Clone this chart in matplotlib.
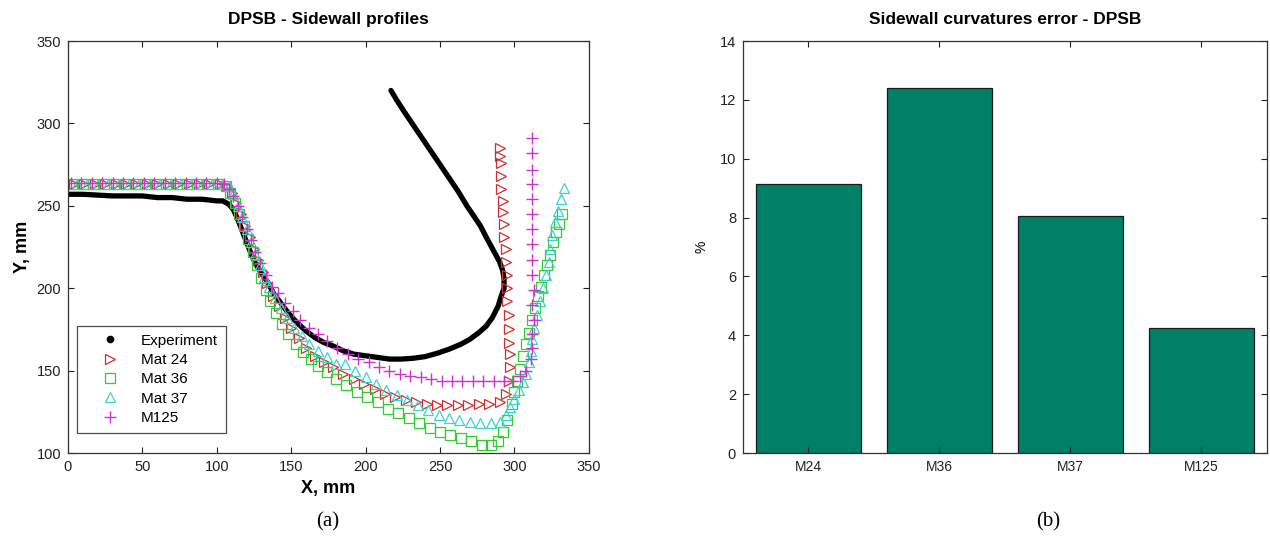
import numpy as np
import matplotlib
matplotlib.use("Agg")
import matplotlib.pyplot as plt
from matplotlib.lines import Line2D

plt.rcParams['font.family'] = ['Liberation Sans', 'DejaVu Sans']

# ---- profile data (X, Y in mm) ----
exp_x = [0, 10, 20, 30, 40, 50, 60, 70, 80, 90, 100, 104, 108, 111, 114, 117, 120, 123, 126, 130,
         134, 138, 143, 148, 154, 160, 166, 172, 178, 185, 192, 200, 208, 216, 224, 232, 240, 248,
         256, 264, 270, 276, 281, 285, 289, 291, 293, 293, 292, 290, 287, 284, 281, 277, 274, 268,
         262, 256, 250, 244, 238, 232, 226, 221, 217]
exp_y = [257, 257, 256.5, 256, 256, 256, 255, 255, 254, 254, 253, 253, 251, 248, 242, 235, 228, 221,
         215, 209, 204, 197, 191, 185, 179, 174, 170, 167, 165, 162, 160, 159, 158, 157, 157, 157.5,
         158.5, 160.5, 163, 166, 169, 173, 177, 182, 189, 195, 200, 206, 211, 216, 221, 226, 231,
         238, 242, 250, 259, 267, 275, 283, 291, 299, 307, 314, 320]

m24_x = [4, 11, 18, 25, 32, 39, 46, 53, 60, 67, 74, 81, 88, 95, 102,
         107, 110, 113, 116, 119, 122, 125, 128, 131, 134, 138, 142, 146, 150, 155, 160, 166, 172,
         178, 185, 192, 199, 206, 213, 220, 227, 234, 241, 248, 255, 262, 269, 276, 283, 290, 294,
         296, 297, 297, 296, 296, 296, 295, 295, 295, 294, 294, 293, 293, 292, 292, 291, 291, 291,
         290, 290]
m24_y = [263, 263, 263, 263, 263, 263, 263, 263, 263, 263, 263, 263, 263, 263, 263,
         262, 258, 252, 245, 238, 231, 224, 217, 210, 203, 195, 189, 182, 176, 170, 164, 159, 155,
         152, 148, 145, 142, 139, 136, 134, 132, 131, 130, 129, 129, 129, 129, 130, 130, 131, 136,
         144, 152, 160, 167, 175, 184, 192, 200, 208, 216, 224, 231, 239, 246, 253, 260, 268, 276,
         280, 285]

m36_x = [3, 10, 17, 24, 31, 38, 45, 52, 59, 66, 73, 80, 87, 94, 101,
         106, 109, 112, 115, 118, 121, 124, 127, 130, 133, 136, 140, 144, 148, 153, 158, 163, 168,
         174, 180, 187, 194, 201, 208, 215, 222, 229, 236, 243, 250, 257, 264, 271, 278, 284, 289,
         292, 295, 298, 300, 302, 304, 306, 308, 310, 312, 314, 316, 318, 320, 322, 324, 326, 328,
         330, 332]
m36_y = [263, 263, 263, 263, 263, 263, 263, 263, 263, 263, 263, 263, 263, 263, 263,
         262, 258, 252, 245, 238, 230, 222, 214, 206, 199, 192, 185, 178, 172, 166, 161, 157, 153,
         149, 145, 141, 137, 134, 131, 127, 124, 121, 118, 115, 113, 111, 109, 107, 105, 105, 107,
         113, 120, 130, 137, 144, 151, 159, 166, 173, 181, 188, 195, 201, 208, 214, 220, 228, 234,
         239, 245]

m37_x = [6, 13, 20, 27, 34, 41, 48, 55, 62, 69, 76, 83, 90, 97, 104,
         108, 111, 114, 117, 120, 123, 126, 129, 132, 135, 139, 143, 147, 152, 157, 162, 168, 174,
         180, 186, 193, 200, 207, 214, 221, 228, 235, 242, 249, 256, 263, 270, 277, 284, 290, 294,
         297, 300, 303, 306, 308, 310, 311, 312, 313, 315, 317, 319, 321, 323, 324, 325, 327, 329,
         331, 333]
m37_y = [263, 263, 263, 263, 263, 263, 263, 263, 263, 263, 263, 263, 263, 263, 263,
         262, 257, 250, 243, 236, 228, 221, 214, 207, 201, 194, 188, 182, 176, 171, 166, 162, 158,
         154, 154, 150, 146, 142, 138, 135, 132, 129, 126, 123, 121, 120, 119, 118, 118, 119, 123,
         128, 133, 138, 143, 148, 155, 162, 169, 176, 184, 192, 200, 208, 216, 224, 232, 240, 247,
         254, 261]

m125_x = [2, 9, 16, 23, 30, 37, 44, 51, 58, 65, 72, 79, 86, 93, 100,
          105, 108, 111, 114, 117, 120, 123, 126, 129, 133, 137, 141, 146, 151, 156, 162, 168, 174,
          181, 188, 195, 202, 209, 216, 223, 230, 237, 244, 251, 258, 265, 272, 279, 286, 293, 299,
          304, 308, 311, 312, 312, 313, 312, 313, 312, 312, 312, 312, 312, 312, 312, 312, 312, 312]
m125_y = [264, 264, 264, 264, 264, 264, 264, 264, 264, 264, 264, 264, 264, 264, 264,
          263, 260, 256, 250, 243, 236, 229, 222, 215, 208, 201, 197, 191, 186, 181, 176, 172, 168,
          164, 160, 157, 155, 152, 150, 148, 147, 146, 145, 144, 144, 144, 144, 144, 144, 144, 144,
          147, 150, 157, 164, 172, 181, 190, 199, 208, 217, 227, 236, 245, 254, 263, 272, 282, 291]

# ---- curvature error (%) ----
materials = ["M24", "M36", "M37", "M125"]
errors = [9.15, 12.4, 8.05, 4.25]

fig = plt.figure(figsize=(12.7, 5.37), dpi=100)

tick_kw = dict(direction='in', length=4, width=0.8, top=True, right=True, labelsize=10.5,
               colors='#222222', labelcolor='#222222', pad=5)

# ---------------- (a) profiles ----------------
ax = fig.add_axes([0.0535, 0.1564, 0.4102, 0.7672])
ax.plot(exp_x, exp_y, color='k', lw=3.8, solid_capstyle='round', zorder=2)
ax.plot(m24_x, m24_y, ls='none', marker='>', ms=7.5, mfc='none', mec='#cc2f2f', mew=0.9, label='Mat 24')
ax.plot(m36_x, m36_y, ls='none', marker='s', ms=7, mfc='none', mec='#33cc33', mew=0.9, label='Mat 36')
ax.plot(m37_x, m37_y, ls='none', marker='^', ms=7.5, mfc='none', mec='#3cd2d2', mew=0.9, label='Mat 37')
ax.plot(m125_x, m125_y, ls='none', marker='+', ms=8.5, mec='#cc33cc', mew=1.0, label='M125')

ax.set_xlim(0, 350)
ax.set_ylim(100, 350)
ax.set_xticks(np.arange(0, 351, 50))
ax.set_yticks(np.arange(100, 351, 50))
ax.tick_params(**tick_kw)
for s in ax.spines.values():
    s.set_linewidth(0.9)
    s.set_color('#333333')
ax.set_title("DPSB - Sidewall profiles", fontsize=12.5, fontweight='bold', pad=12)
ax.set_xlabel("X, mm", fontsize=13, fontweight='bold', labelpad=4)
ax.set_ylabel("Y, mm", fontsize=13, fontweight='bold', labelpad=4)

handles = [Line2D([], [], ls='none', marker='.', ms=9, color='k')] + ax.get_lines()[1:]
labels = ["Experiment", "Mat 24", "Mat 36", "Mat 37", "M125"]
leg = ax.legend(handles, labels, loc='lower left', bbox_to_anchor=(0.017, 0.049),
                borderaxespad=0, fontsize=11, frameon=True, fancybox=False,
                edgecolor='#222222', handlelength=3.4, handletextpad=0.3,
                borderpad=0.5, labelspacing=0.35)
leg.get_frame().set_linewidth(0.9)

fig.text(0.258, 0.028, "(a)", fontsize=15, family='Liberation Serif', ha='center', va='center')

# ---------------- (b) curvature error ----------------
bx = fig.add_axes([0.5850, 0.1564, 0.4126, 0.7672])
pos = np.arange(1, len(materials) + 1)
bx.bar(pos, errors, width=0.8, color='#008066', edgecolor='#1a1a1a', linewidth=0.9)
bx.set_xlim(0.5, 4.5)
bx.set_ylim(0, 14)
bx.set_xticks(pos)
bx.set_xticklabels(materials)
bx.set_yticks(np.arange(0, 15, 2))
bx.tick_params(**tick_kw)
bx.tick_params(axis='x', labelsize=10)
for s in bx.spines.values():
    s.set_linewidth(0.9)
    s.set_color('#333333')
bx.set_title("Sidewall curvatures error - DPSB", fontsize=12.5, fontweight='bold', pad=12)
bx.set_ylabel("%", fontsize=10, labelpad=8)

fig.text(0.825, 0.028, "(b)", fontsize=15, family='Liberation Serif', ha='center', va='center')

fig.savefig("out.png", dpi=100)
